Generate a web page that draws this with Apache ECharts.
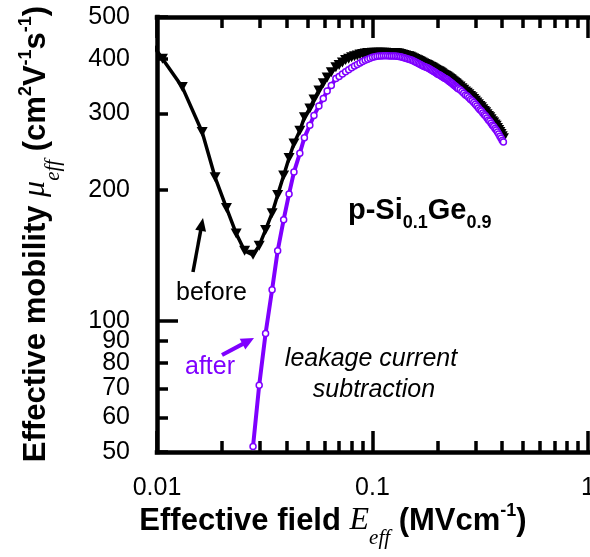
<!DOCTYPE html>
<html>
<head>
<meta charset="utf-8">
<script src="https://cdn.jsdelivr.net/npm/echarts@6/dist/echarts.min.js"></script>
<style>
  html, body { margin: 0; padding: 0; background: #fff; }
  #chart { width: 590px; height: 557px; }
</style>
</head>
<body>
<div id="chart"></div>
<script>
// Effective field E_eff (MV/cm) of each measurement point
const field = [
  0.0082, 0.0106, 0.0131, 0.0162, 0.0186, 0.0210, 0.0233, 0.0255, 0.0279, 0.0298,
  0.0319, 0.0342, 0.0363, 0.0387, 0.0410, 0.0432, 0.0460, 0.0483, 0.0512, 0.0535,
  0.0564, 0.0591, 0.0616, 0.0644, 0.0676,
  0.0700, 0.0725, 0.0750, 0.0775, 0.0800, 0.0825, 0.0850, 0.0875, 0.0900, 0.0925,
  0.0950, 0.0975, 0.1000, 0.1025, 0.1050, 0.1075, 0.1100, 0.1125, 0.1150, 0.1175, 0.1200,
  0.1225, 0.1250, 0.1275, 0.1300, 0.1325, 0.1350, 0.1375, 0.1400, 0.1425, 0.1450,
  0.1475, 0.1500, 0.1525, 0.1550, 0.1575, 0.1600, 0.1625, 0.1650, 0.1675, 0.1700,
  0.1725, 0.1750, 0.1775, 0.1800, 0.1825, 0.1850, 0.1875, 0.1900, 0.1925, 0.1950,
  0.1975, 0.2000, 0.2025, 0.2050, 0.2075, 0.2100, 0.2125, 0.2150, 0.2175, 0.2200,
  0.2225, 0.2250, 0.2275, 0.2300, 0.2325, 0.2350, 0.2375, 0.2400, 0.2425, 0.2450,
  0.2475, 0.2500,
  0.255, 0.260, 0.265, 0.270, 0.275, 0.280, 0.285, 0.290, 0.295, 0.300,
  0.305, 0.310, 0.315, 0.320, 0.325, 0.330, 0.335, 0.340, 0.345, 0.350,
  0.355, 0.360, 0.365, 0.370, 0.375, 0.380, 0.385, 0.390, 0.395, 0.400, 0.405
];

// Effective mobility (cm2/Vs) before leakage current subtraction, one value per field point
const muBefore = [
  480, 401, 345, 272, 214, 182, 159, 145, 142, 149,
  162, 177, 195, 216, 237, 256, 274, 294, 308, 323,
  339, 352, 363, 373, 383,
  388, 393, 398, 401, 404, 406, 408, 410, 411, 412,
  413, 413.5, 414, 414, 414, 414, 414, 414, 414, 413.5, 413.5,
  413.5, 413, 413, 412.5, 412, 411, 410, 409, 408, 407,
  406, 405, 403.5, 402, 400.5, 399, 397.5, 396, 394.5, 393,
  391.5, 390, 389, 388, 386.5, 385, 383.5, 382, 380.5, 379,
  377.5, 376, 375, 374, 372.5, 371, 369.5, 368, 367, 366,
  364.5, 363, 361.5, 360, 358.5, 357, 355.5, 354, 352.5, 351,
  349.5, 348,
  346, 343, 340, 337, 335, 332, 329, 327, 324, 321,
  318, 315, 312, 310, 307, 304, 302, 299, 296, 294,
  291, 288, 286, 283, 281, 278, 275, 272, 269, 266, 263
];

// Effective mobility after subtraction; starts at the 9th field point (0.0279 MV/cm)
const muAfter = [
  51.5, 71.2, 93.6, 118, 145, 171, 196, 220, 243, 264,
  282, 297, 312, 325, 338, 348, 361,
  365, 370, 374, 378, 382, 386, 389, 392, 395, 397.5,
  400, 402, 404, 405, 406, 407, 407, 407.5, 407.5, 407.5, 407,
  407, 407, 406.5, 406, 405.5, 405, 404, 403, 402, 401,
  400, 399, 397.5, 396, 394.5, 393, 391.5, 390, 388.5, 387,
  385.5, 384, 383, 382, 380.5, 379, 377.5, 376, 374.5, 373,
  371.5, 370, 369, 368, 366.5, 365, 363.5, 362, 361, 360,
  358.5, 357, 355.5, 354, 352.5, 351, 349.5, 348, 346.5, 345,
  343.5, 342,
  340, 337, 334, 331, 329, 326, 323, 321, 318, 315,
  312, 309, 306, 304, 301, 298, 296, 293, 290, 288,
  285, 282, 280, 277, 275, 272, 269, 266, 263, 260, 258
];

// Axis ticks and labels
const xMajorTicks = [0.01, 0.1, 1];
const xMinorTicks = [0.02, 0.03, 0.04, 0.05, 0.06, 0.07, 0.08, 0.09,
                     0.2, 0.3, 0.4, 0.5, 0.6, 0.7, 0.8, 0.9];
const xTickLabels = [0.01, 0.1, 1];
const yMajorTicks = [100];
const yMinorTicks = [50, 60, 70, 80, 90, 200, 300, 400, 500];
const yTickLabels = [50, 60, 70, 80, 90, 100, 200, 300, 400, 500];

const PURPLE = '#7f00ff';
const SANS = 'Liberation Sans, Arial, Helvetica, sans-serif';
const SERIF = 'Liberation Serif, Times New Roman, serif';

function axisDef(dim, position, ticks, tickLen, labels, showLine) {
  const isX = dim === 'x';
  return {
    type: 'log',
    logBase: 10,
    min: isX ? 0.01 : 50,
    max: isX ? 1 : 500,
    position: position,
    axisLine: {
      show: showLine, onZero: false,
      lineStyle: { color: '#000', width: 4.5, cap: 'square' }
    },
    axisTick: {
      show: true, inside: true, length: tickLen, customValues: ticks,
      lineStyle: { color: '#000', width: 3.5, opacity: 1 }
    },
    axisLabel: labels ? {
      show: true,
      customValues: labels,
      formatter: v => String(v),
      color: '#000',
      fontFamily: SANS,
      fontSize: 25,
      margin: isX ? 24 : 27
    } : { show: false },
    splitLine: { show: false },
    minorTick: { show: false },
    minorSplitLine: { show: false }
  };
}

function arrow(tail, tip, color, headLen, headHalf, width) {
  const dx = tip[0] - tail[0], dy = tip[1] - tail[1];
  const len = Math.hypot(dx, dy);
  const ux = dx / len, uy = dy / len;
  const bx = tip[0] - ux * headLen, by = tip[1] - uy * headLen;
  return {
    type: 'group',
    children: [
      { type: 'line', shape: { x1: tail[0], y1: tail[1], x2: bx + ux, y2: by + uy },
        style: { stroke: color, lineWidth: width } },
      { type: 'polygon',
        shape: { points: [tip, [bx - uy * headHalf, by + ux * headHalf], [bx + uy * headHalf, by - ux * headHalf]] },
        style: { fill: color } }
    ]
  };
}

const titleRich = {
  b:   { fontFamily: SANS, fontWeight: 'bold', fontSize: 31, lineHeight: 60, fill: '#000' },
  it:  { fontFamily: SERIF, fontStyle: 'italic', fontSize: 32, lineHeight: 60, fill: '#000' },
  sub: { fontFamily: SERIF, fontStyle: 'italic', fontSize: 21, lineHeight: 60, verticalAlign: 'top', padding: [37, 0, 0, 0], fill: '#000' },
  sup: { fontFamily: SANS, fontWeight: 'bold', fontSize: 18, lineHeight: 60, verticalAlign: 'top', padding: [11, 0, 0, 0], fill: '#000' }
};

const chart = echarts.init(document.getElementById('chart'), null, { renderer: 'canvas' });

const option = {
  animation: false,
  backgroundColor: '#fff',
  grid: {
    left: 157, top: 17, right: 2, bottom: 105,
    containLabel: false, outerBoundsMode: 'none'
  },
  xAxis: [
    axisDef('x', 'bottom', xMajorTicks, 21, xTickLabels, true),
    axisDef('x', 'bottom', xMinorTicks, 11, null, false),
    axisDef('x', 'top', xMajorTicks, 21, null, true),
    axisDef('x', 'top', xMinorTicks, 11, null, false)
  ],
  yAxis: [
    axisDef('y', 'left', yMajorTicks, 21, yTickLabels, true),
    axisDef('y', 'left', yMinorTicks, 11, null, false)
  ],
  series: [
    {
      name: 'before',
      type: 'line',
      xAxisIndex: 0, yAxisIndex: 0,
      data: field.map((e, i) => [e, muBefore[i]]),
      symbol: 'triangle',
      symbolRotate: 180,
      symbolSize: [11, 10],
      clip: true,
      lineStyle: { color: '#000', width: 3.5 },
      itemStyle: { color: '#000' },
      z: 2
    },
    {
      name: 'after',
      type: 'line',
      xAxisIndex: 0, yAxisIndex: 0,
      data: muAfter.map((m, i) => [field[field.length - muAfter.length + i], m]),
      symbol: 'circle',
      symbolSize: 6,
      clip: true,
      lineStyle: { color: PURPLE, width: 4 },
      itemStyle: { color: '#fff', borderColor: PURPLE, borderWidth: 1.5 },
      z: 3
    }
  ],
  graphic: [
    {
      type: 'text', x: 333, y: 521,
      style: {
        text: '{b|Effective field }{it|E}{sub|eff}{b| (MVcm}{sup|-1}{b|)}',
        rich: titleRich, align: 'center', verticalAlign: 'middle'
      }
    },
    {
      type: 'text', x: 36, y: 234, rotation: Math.PI / 2,
      style: {
        text: '{b|Effective mobility }{it|\u03bc}{sub|eff}{b| (cm}{sup|2}{b|V}{sup|-1}{b|s}{sup|-1}{b|)}',
        rich: titleRich, align: 'center', verticalAlign: 'middle'
      }
    },
    {
      type: 'text', x: 348, y: 211,
      style: {
        text: '{m|p-Si}{s|0.1}{m|Ge}{s|0.9}',
        align: 'left', verticalAlign: 'middle',
        rich: {
          m: { fontFamily: SANS, fontWeight: 'bold', fontSize: 29, lineHeight: 50, fill: '#000' },
          s: { fontFamily: SANS, fontWeight: 'bold', fontSize: 18, lineHeight: 50, verticalAlign: 'top', padding: [28, 0, 0, 0], fill: '#000' }
        }
      }
    },
    {
      type: 'text', x: 176, y: 293,
      style: { text: 'before', fontFamily: SANS, fontSize: 25, fill: '#000', align: 'left', verticalAlign: 'middle' }
    },
    {
      type: 'text', x: 185, y: 367,
      style: { text: 'after', fontFamily: SANS, fontSize: 25, fill: PURPLE, align: 'left', verticalAlign: 'middle' }
    },
    {
      type: 'text', x: 371, y: 359,
      style: { text: 'leakage current', fontFamily: SANS, fontStyle: 'italic', fontSize: 25, fill: '#000', align: 'center', verticalAlign: 'middle' }
    },
    {
      type: 'text', x: 374, y: 390,
      style: { text: 'subtraction', fontFamily: SANS, fontStyle: 'italic', fontSize: 25, fill: '#000', align: 'center', verticalAlign: 'middle' }
    },
    arrow([193, 272], [203, 218], '#000', 13, 5.5, 3.5),
    arrow([222, 355], [254, 338], PURPLE, 13, 6, 4)
  ]
};

chart.setOption(option);
</script>
</body>
</html>
